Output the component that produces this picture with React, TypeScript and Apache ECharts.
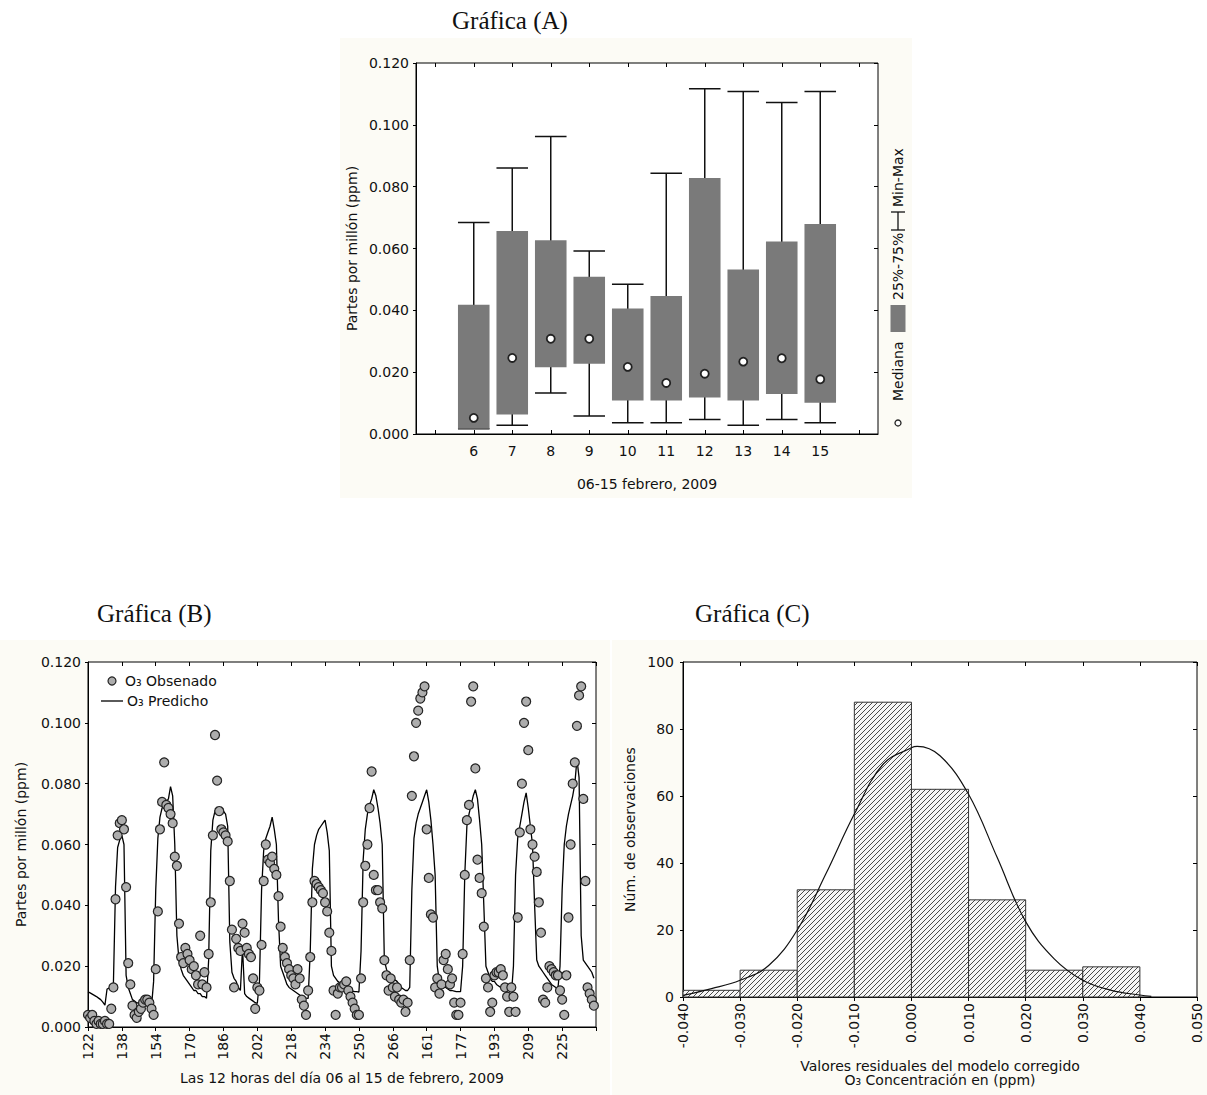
import React, { useEffect, useRef } from 'react';
import * as echarts from 'echarts';

const FONT = '"DejaVu Sans", sans-serif';
const SERIF = '"Liberation Serif", "DejaVu Serif", serif';

// ---------- Gráfica (A): box plot per day ----------
const boxDays = ['6', '7', '8', '9', '10', '11', '12', '13', '14', '15'];
const boxCats = ['', ...boxDays, ''];
const boxMin = [0.0017, 0.0028, 0.0133, 0.0058, 0.0036, 0.0036, 0.0047, 0.0028, 0.0047, 0.0036];
const boxQ1 = [0.0017, 0.0063, 0.0216, 0.0227, 0.0108, 0.0108, 0.0118, 0.0108, 0.0129, 0.0101];
const boxMedian = [0.0052, 0.0246, 0.0308, 0.0308, 0.0217, 0.0165, 0.0195, 0.0234, 0.0245, 0.0177];
const boxQ3 = [0.0418, 0.0657, 0.0627, 0.0509, 0.0406, 0.0446, 0.0828, 0.0532, 0.0623, 0.0679];
const boxMax = [0.0684, 0.086, 0.0962, 0.0592, 0.0484, 0.0843, 0.1117, 0.1108, 0.1072, 0.1108];

// ---------- Gráfica (B): observed vs predicted (hourly) ----------
const hourTickLabels = ['122', '138', '154', '170', '186', '202', '218', '234', '250', '266', '161', '177', '193', '209', '225'];
const observed = [
  0.004, 0.003, 0.004, 0.002, 0.001, 0.002, 0.001, 0.001, 0.002, 0.001, 0.001, 0.006, 0.013, 0.042, 0.063, 0.067, 0.068, 0.065, 0.046, 0.021, 0.014, 0.007, 0.004, 0.003,
  0.005, 0.006, 0.008, 0.009, 0.009, 0.008, 0.006, 0.004, 0.019, 0.038, 0.065, 0.074, 0.087, 0.073, 0.072, 0.070, 0.067, 0.056, 0.053, 0.034, 0.023, 0.021, 0.026, 0.024,
  0.022, 0.019, 0.020, 0.017, 0.014, 0.030, 0.014, 0.018, 0.013, 0.024, 0.041, 0.063, 0.096, 0.081, 0.071, 0.065, 0.064, 0.063, 0.061, 0.048, 0.032, 0.013, 0.029, 0.026,
  0.025, 0.034, 0.031, 0.026, 0.024, 0.023, 0.016, 0.006, 0.013, 0.012, 0.027, 0.048, 0.060, 0.055, 0.054, 0.056, 0.052, 0.050, 0.043, 0.033, 0.026, 0.023, 0.021, 0.019,
  0.017, 0.016, 0.014, 0.019, 0.016, 0.009, 0.007, 0.004, 0.012, 0.023, 0.041, 0.048, 0.047, 0.046, 0.045, 0.044, 0.041, 0.038, 0.031, 0.025, 0.012, 0.004, 0.011, 0.013,
  0.013, 0.014, 0.015, 0.012, 0.010, 0.008, 0.006, 0.004, 0.004, 0.016, 0.041, 0.053, 0.060, 0.072, 0.084, 0.050, 0.045, 0.045, 0.041, 0.039, 0.022, 0.017, 0.012, 0.016,
  0.013, 0.010, 0.013, 0.009, 0.008, 0.009, 0.005, 0.008, 0.022, 0.076, 0.089, 0.100, 0.104, 0.108, 0.110, 0.112, 0.065, 0.049, 0.037, 0.036, 0.013, 0.016, 0.011, 0.014,
  0.022, 0.024, 0.019, 0.014, 0.016, 0.008, 0.004, 0.004, 0.008, 0.024, 0.050, 0.068, 0.073, 0.107, 0.112, 0.085, 0.055, 0.049, 0.044, 0.033, 0.016, 0.013, 0.005, 0.008,
  0.017, 0.018, 0.018, 0.019, 0.017, 0.013, 0.010, 0.005, 0.013, 0.010, 0.005, 0.036, 0.064, 0.080, 0.100, 0.107, 0.091, 0.065, 0.060, 0.056, 0.051, 0.041, 0.031, 0.009,
  0.008, 0.013, 0.020, 0.019, 0.018, 0.017, 0.017, 0.012, 0.009, 0.004, 0.017, 0.036, 0.060, 0.080, 0.087, 0.099, 0.109, 0.112, 0.075, 0.048, 0.013, 0.011, 0.009, 0.007,
];
const predicted = [
  0.0116, 0.0112, 0.0108, 0.0104, 0.0100, 0.0095, 0.0090, 0.0082, 0.0072, 0.0125, 0.0128, 0.0130, 0.0140, 0.0460, 0.0590, 0.0615, 0.0630, 0.0600, 0.0170, 0.0130, 0.0110, 0.0090, 0.0085, 0.0080,
  0.0078, 0.0076, 0.0074, 0.0072, 0.0070, 0.0068, 0.0067, 0.0150, 0.0450, 0.0620, 0.0690, 0.0720, 0.0730, 0.0740, 0.0750, 0.0790, 0.0760, 0.0600, 0.0300, 0.0220, 0.0190, 0.0170, 0.0160, 0.0150,
  0.0140, 0.0130, 0.0120, 0.0120, 0.0110, 0.0110, 0.0100, 0.0100, 0.0095, 0.0220, 0.0580, 0.0680, 0.0710, 0.0720, 0.0720, 0.0720, 0.0710, 0.0700, 0.0660, 0.0280, 0.0180, 0.0160, 0.0150, 0.0130,
  0.0120, 0.0260, 0.0110, 0.0100, 0.0095, 0.0090, 0.0085, 0.0080, 0.0078, 0.0150, 0.0450, 0.0580, 0.0620, 0.0640, 0.0660, 0.0690, 0.0650, 0.0600, 0.0350, 0.0200, 0.0180, 0.0160, 0.0140, 0.0130,
  0.0125, 0.0120, 0.0115, 0.0110, 0.0105, 0.0100, 0.0098, 0.0095, 0.0094, 0.0250, 0.0520, 0.0600, 0.0630, 0.0650, 0.0660, 0.0670, 0.0680, 0.0640, 0.0580, 0.0200, 0.0170, 0.0160, 0.0150, 0.0145,
  0.0140, 0.0135, 0.0130, 0.0125, 0.0120, 0.0118, 0.0116, 0.0116, 0.0115, 0.0250, 0.0550, 0.0650, 0.0700, 0.0730, 0.0750, 0.0780, 0.0760, 0.0720, 0.0670, 0.0600, 0.0220, 0.0190, 0.0170, 0.0160,
  0.0150, 0.0155, 0.0150, 0.0140, 0.0130, 0.0125, 0.0120, 0.0120, 0.0130, 0.0450, 0.0620, 0.0670, 0.0700, 0.0720, 0.0740, 0.0760, 0.0780, 0.0740, 0.0680, 0.0600, 0.0500, 0.0200, 0.0150, 0.0140,
  0.0130, 0.0130, 0.0125, 0.0120, 0.0120, 0.0118, 0.0116, 0.0116, 0.0116, 0.0200, 0.0500, 0.0660, 0.0700, 0.0730, 0.0760, 0.0780, 0.0750, 0.0680, 0.0600, 0.0400, 0.0200, 0.0180, 0.0160, 0.0150,
  0.0150, 0.0140, 0.0135, 0.0130, 0.0125, 0.0120, 0.0115, 0.0110, 0.0105, 0.0200, 0.0500, 0.0620, 0.0660, 0.0700, 0.0740, 0.0770, 0.0720, 0.0660, 0.0600, 0.0400, 0.0220, 0.0200, 0.0190, 0.0180,
  0.0170, 0.0160, 0.0150, 0.0140, 0.0135, 0.0130, 0.0125, 0.0200, 0.0450, 0.0600, 0.0660, 0.0700, 0.0730, 0.0760, 0.0800, 0.0880, 0.0820, 0.0300, 0.0220, 0.0210, 0.0200, 0.0190, 0.0180, 0.0160,
];

// ---------- Gráfica (C): residual histogram ----------
const binEdges = [-0.04, -0.03, -0.02, -0.01, 0, 0.01, 0.02, 0.03, 0.04, 0.05];
const binCounts = [2, 8, 32, 88, 62, 29, 8, 9, 0];
const curveX = [-0.04, -0.035, -0.03, -0.025, -0.02, -0.015, -0.01, -0.005, 0.0, 0.001, 0.005, 0.01, 0.015, 0.02, 0.025, 0.03, 0.035, 0.04, 0.042];
const curveY = [0.5, 2.5, 5, 9.4, 20, 36.7, 54.6, 69.4, 74.4, 74.8, 72, 60.5, 41.7, 22.5, 11.4, 5, 2, 0.6, 0.2];

function makeHatch(): HTMLCanvasElement {
  const s = 5;
  const c = document.createElement('canvas');
  c.width = s;
  c.height = s;
  const ctx = c.getContext('2d')!;
  ctx.fillStyle = '#f6f6f6';
  ctx.fillRect(0, 0, s, s);
  ctx.strokeStyle = '#4a4a4a';
  ctx.lineWidth = 1;
  ctx.beginPath();
  ctx.moveTo(0, s);
  ctx.lineTo(s, 0);
  ctx.moveTo(-1, 1);
  ctx.lineTo(1, -1);
  ctx.moveTo(s - 1, s + 1);
  ctx.lineTo(s + 1, s - 1);
  ctx.stroke();
  return c;
}

const labelStyle = { fontFamily: FONT, fontSize: 14, color: '#111' };
const nameStyle = { fontFamily: FONT, fontSize: 14, color: '#111' };
const blackLine = { onZero: false, lineStyle: { color: '#000', width: 1 } };

function fmt3(v: number) {
  if (Math.abs(v) < 1e-9) return '0.000';
  return v.toFixed(3);
}

export default function App() {
  const ref = useRef<HTMLDivElement>(null);

  useEffect(() => {
    const chart = echarts.init(ref.current!, null, { renderer: 'svg' });
    const hatch = makeHatch();

    const boxData = boxDays.map((_, i) => [i + 1, boxMin[i], boxQ1[i], boxMedian[i], boxQ3[i], boxMax[i]]);
    const medianData = boxDays.map((_, i) => [i + 1, boxMedian[i]]);
    const obsData = observed.map((v, i) => [i, v]);
    const predData = predicted.map((v, i) => [i, v]);
    const histData = binCounts
      .map((c, i) => [binEdges[i], binEdges[i + 1], c])
      .filter((d) => d[2] > 0);
    const curveData = curveX.map((x, i) => [x, curveY[i]]);

    const sideTicks = (extra: any) => ({
      axisLabel: { show: false },
      axisLine: { show: false, onZero: false },
      axisTick: { show: true, inside: true, length: 4, lineStyle: { color: '#000' } },
      splitLine: { show: false },
      ...extra,
    });

    const option: any = {
      animation: false,
      backgroundColor: '#ffffff',
      textStyle: { fontFamily: FONT },
      title: [
        { text: 'Gráfica (A)', left: 447, top: 3, textStyle: { fontFamily: SERIF, fontSize: 25, fontWeight: 'normal', color: '#111' } },
        { text: 'Gráfica (B)', left: 92, top: 596, textStyle: { fontFamily: SERIF, fontSize: 25, fontWeight: 'normal', color: '#111' } },
        { text: 'Gráfica (C)', left: 690, top: 596, textStyle: { fontFamily: SERIF, fontSize: 25, fontWeight: 'normal', color: '#111' } },
      ],
      grid: [
        { left: 416, top: 63, width: 462, height: 371, show: true, backgroundColor: '#fff', borderColor: '#000', borderWidth: 1 },
        { left: 88, top: 662, width: 508, height: 365, show: true, backgroundColor: '#fff', borderColor: '#000', borderWidth: 1 },
        { left: 683, top: 662, width: 514, height: 335, show: true, backgroundColor: '#fff', borderColor: '#000', borderWidth: 1 },
      ],
      xAxis: [
        {
          gridIndex: 0, type: 'category', data: boxCats, boundaryGap: true,
          axisLine: blackLine,
          axisTick: { show: true, alignWithLabel: true, inside: true, length: 4, lineStyle: { color: '#000' } },
          axisLabel: { ...labelStyle, margin: 10, interval: 0 },
          name: '06-15 febrero, 2009', nameLocation: 'middle', nameGap: 43, nameTextStyle: nameStyle,
        },
        sideTicks({ gridIndex: 0, type: 'category', data: boxCats, boundaryGap: true, position: 'top', axisTick: { show: true, alignWithLabel: true, inside: true, length: 4, lineStyle: { color: '#000' } } }),
        {
          gridIndex: 1, type: 'value', min: 0, max: 240, interval: 16,
          axisLine: blackLine,
          axisTick: { show: true, length: 4, lineStyle: { color: '#000' } },
          splitLine: { show: false },
          axisLabel: { ...labelStyle, rotate: 90, margin: 6, formatter: (v: number) => hourTickLabels[Math.round(v / 16)] ?? '' },
          name: 'Las 12 horas del día 06 al 15 de febrero, 2009', nameLocation: 'middle', nameGap: 44, nameTextStyle: nameStyle,
        },
        sideTicks({ gridIndex: 1, type: 'value', min: 0, max: 240, interval: 16, position: 'top' }),
        {
          gridIndex: 2, type: 'value', min: -0.04, max: 0.05, interval: 0.01,
          axisLine: blackLine,
          axisTick: { show: true, length: 4, lineStyle: { color: '#000' } },
          splitLine: { show: false },
          axisLabel: { ...labelStyle, rotate: 90, margin: 6, formatter: (v: number) => fmt3(v) },
          name: 'Valores residuales del modelo corregido\nO₃ Concentración en (ppm)', nameLocation: 'middle', nameGap: 62,
          nameTextStyle: { ...nameStyle, lineHeight: 14 },
        },
        sideTicks({ gridIndex: 2, type: 'value', min: -0.04, max: 0.05, interval: 0.01, position: 'top' }),
      ],
      yAxis: [
        {
          gridIndex: 0, type: 'value', min: 0, max: 0.12, interval: 0.02,
          axisLine: { show: true, ...blackLine },
          axisTick: { show: true, length: 3, lineStyle: { color: '#000' } },
          splitLine: { show: false },
          axisLabel: { ...labelStyle, margin: 7, formatter: (v: number) => fmt3(v) },
          name: 'Partes por millón (ppm)', nameLocation: 'middle', nameGap: 57, nameTextStyle: nameStyle,
        },
        sideTicks({ gridIndex: 0, type: 'value', min: 0, max: 0.12, interval: 0.02, position: 'right' }),
        {
          gridIndex: 1, type: 'value', min: 0, max: 0.12, interval: 0.02,
          axisLine: { show: true, ...blackLine },
          axisTick: { show: true, length: 3, lineStyle: { color: '#000' } },
          splitLine: { show: false },
          axisLabel: { ...labelStyle, margin: 7, formatter: (v: number) => fmt3(v) },
          name: 'Partes por millón (ppm)', nameLocation: 'middle', nameGap: 60, nameTextStyle: nameStyle,
        },
        sideTicks({ gridIndex: 1, type: 'value', min: 0, max: 0.12, interval: 0.02, position: 'right' }),
        {
          gridIndex: 2, type: 'value', min: 0, max: 100, interval: 20,
          axisLine: { show: true, ...blackLine },
          axisTick: { show: true, length: 3, lineStyle: { color: '#000' } },
          splitLine: { show: false },
          axisLabel: { ...labelStyle, margin: 9 },
          name: 'Núm. de observaciones', nameLocation: 'middle', nameGap: 46, nameTextStyle: nameStyle,
        },
        sideTicks({ gridIndex: 2, type: 'value', min: 0, max: 100, interval: 20, position: 'right' }),
      ],
      series: [
        {
          type: 'custom', name: 'Min-Max / 25%-75%', xAxisIndex: 0, yAxisIndex: 0,
          data: boxData, encode: { x: 0, y: [1, 2, 3, 4, 5] },
          renderItem: (_params: any, api: any) => {
            const x = api.value(0);
            const pMin = api.coord([x, api.value(1)]);
            const pQ1 = api.coord([x, api.value(2)]);
            const pQ3 = api.coord([x, api.value(4)]);
            const pMax = api.coord([x, api.value(5)]);
            const bw = api.size([1, 0])[0] * 0.82;
            const cx = pMin[0];
            const h = bw / 2;
            const ln = (x1: number, y1: number, x2: number, y2: number) => ({
              type: 'line', shape: { x1, y1, x2, y2 }, style: { stroke: '#111', lineWidth: 1.5 },
            });
            return {
              type: 'group',
              children: [
                ln(cx, pMax[1], cx, pMin[1]),
                ln(cx - h, pMax[1], cx + h, pMax[1]),
                ln(cx - h, pMin[1], cx + h, pMin[1]),
                { type: 'rect', shape: { x: cx - h, y: pQ3[1], width: bw, height: pQ1[1] - pQ3[1] }, style: { fill: '#7a7a7a' } },
              ],
            };
          },
          z: 2,
        },
        {
          type: 'scatter', name: 'Mediana', xAxisIndex: 0, yAxisIndex: 0, data: medianData,
          symbol: 'circle', symbolSize: 8,
          itemStyle: { color: '#ffffff', borderColor: '#222', borderWidth: 1.8, opacity: 1 },
          z: 4,
        },
        {
          type: 'line', name: 'O₃ Predicho', xAxisIndex: 2, yAxisIndex: 2, data: predData,
          symbol: 'none', lineStyle: { color: '#000', width: 1.3 }, z: 2,
        },
        {
          type: 'scatter', name: 'O₃ Obsenado', xAxisIndex: 2, yAxisIndex: 2, data: obsData,
          symbol: 'circle', symbolSize: 9,
          itemStyle: { color: '#adadad', borderColor: '#222', borderWidth: 1.2, opacity: 1 },
          z: 3,
        },
        {
          type: 'custom', name: 'Histograma', xAxisIndex: 4, yAxisIndex: 4,
          data: histData, encode: { x: [0, 1], y: 2 },
          renderItem: (_params: any, api: any) => {
            const a = api.coord([api.value(0), api.value(2)]);
            const b = api.coord([api.value(1), 0]);
            return {
              type: 'rect',
              shape: { x: a[0], y: a[1], width: b[0] - a[0], height: b[1] - a[1] },
              style: { fill: { image: hatch, repeat: 'repeat' }, stroke: '#333', lineWidth: 1 },
            };
          },
          z: 2,
        },
        {
          type: 'line', name: 'Normal', xAxisIndex: 4, yAxisIndex: 4, data: curveData,
          symbol: 'none', smooth: 0.4, lineStyle: { color: '#111', width: 1.2 }, z: 4,
        },
      ],
      graphic: [
        { type: 'rect', z: -100, shape: { x: 340, y: 38, width: 572, height: 460 }, style: { fill: '#fcfbf5' } },
        { type: 'rect', z: -100, shape: { x: 0, y: 640, width: 610, height: 455 }, style: { fill: '#fcfbf5' } },
        { type: 'rect', z: -100, shape: { x: 612, y: 640, width: 595, height: 455 }, style: { fill: '#fcfbf5' } },
        {
          type: 'group', x: 898, y: 423, rotation: Math.PI / 2,
          children: [
            { type: 'circle', shape: { cx: 0, cy: 0, r: 3 }, style: { fill: '#fff', stroke: '#222', lineWidth: 1.3 } },
            { type: 'text', x: 22, y: 0, style: { text: 'Mediana', font: `14px ${FONT}`, fill: '#111', align: 'left', verticalAlign: 'middle' } },
            { type: 'rect', shape: { x: 91, y: -7.5, width: 27, height: 15 }, style: { fill: '#7a7a7a' } },
            { type: 'text', x: 123, y: 0, style: { text: '25%-75%', font: `14px ${FONT}`, fill: '#111', align: 'left', verticalAlign: 'middle' } },
            { type: 'line', shape: { x1: 193, y1: 0, x2: 211, y2: 0 }, style: { stroke: '#111', lineWidth: 1.3 } },
            { type: 'line', shape: { x1: 193, y1: -7, x2: 193, y2: 7 }, style: { stroke: '#111', lineWidth: 1.3 } },
            { type: 'line', shape: { x1: 211, y1: -7, x2: 211, y2: 7 }, style: { stroke: '#111', lineWidth: 1.3 } },
            { type: 'text', x: 216, y: 0, style: { text: 'Min-Max', font: `14px ${FONT}`, fill: '#111', align: 'left', verticalAlign: 'middle' } },
          ],
        },
        { type: 'circle', shape: { cx: 112, cy: 681, r: 4 }, style: { fill: '#adadad', stroke: '#222', lineWidth: 1.2 }, z: 10 },
        { type: 'text', x: 125, y: 681, z: 10, style: { text: 'O₃ Obsenado', font: `14px ${FONT}`, fill: '#111', align: 'left', verticalAlign: 'middle' } },
        { type: 'line', shape: { x1: 101, y1: 701, x2: 123, y2: 701 }, style: { stroke: '#000', lineWidth: 1.3 }, z: 10 },
        { type: 'text', x: 127, y: 701, z: 10, style: { text: 'O₃ Predicho', font: `14px ${FONT}`, fill: '#111', align: 'left', verticalAlign: 'middle' } },
      ],
    };

    chart.setOption(option);
    return () => chart.dispose();
  }, []);

  return (
    <div
      ref={ref}
      style={{ position: 'absolute', left: 0, top: 0, width: 1207, height: 1095, background: '#fff' }}
    />
  );
}
